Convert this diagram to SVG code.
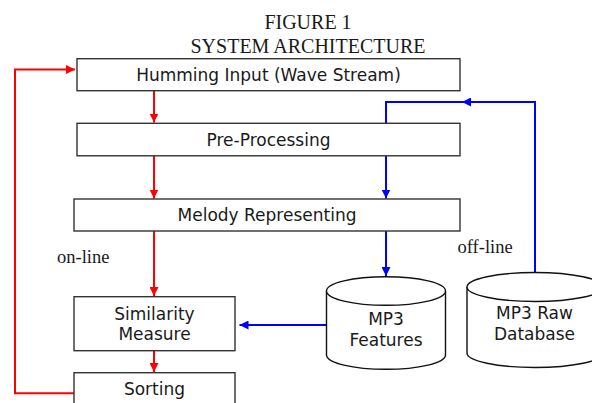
<svg xmlns="http://www.w3.org/2000/svg" width="592" height="403" viewBox="0 0 592 403">
<style>
.box{fill:#fff;stroke:#333;stroke-width:1.4}
.cyl{fill:#fff;stroke:#111;stroke-width:1.4}
.t{font-family:"DejaVu Sans",Verdana,sans-serif;font-size:17px;fill:#1a1a1a;text-anchor:middle}
.s{font-family:"Liberation Serif","Times New Roman",serif;fill:#1a1a1a}
.red{fill:none;stroke:#ff0000;stroke-width:2}
.blue{fill:none;stroke:#0000ff;stroke-width:2}
</style>
<defs>
<marker id="ar" markerUnits="userSpaceOnUse" markerWidth="10" markerHeight="9" refX="9" refY="4.5" orient="auto"><path d="M0,0 L9,4.5 L0,9 z" fill="#ff0000"/></marker>
<marker id="ab" markerUnits="userSpaceOnUse" markerWidth="10" markerHeight="9" refX="9" refY="4.5" orient="auto"><path d="M0,0 L9,4.5 L0,9 z" fill="#0000ff"/></marker>
</defs>
<rect width="592" height="403" fill="#fff"/>
<g id="title">
<text class="s" x="308" y="29" font-size="20" text-anchor="middle">FIGURE 1</text>
<text class="s" x="308" y="53" font-size="20" text-anchor="middle">SYSTEM ARCHITECTURE</text>
</g>
<g id="connectors">
<path class="red" d="M154,91 V122.5" marker-end="url(#ar)"/>
<path class="red" d="M154,156 V198.5" marker-end="url(#ar)"/>
<path class="red" d="M154,231 V296" marker-end="url(#ar)"/>
<path class="red" d="M154,351 V372" marker-end="url(#ar)"/>
<path class="red" d="M74,393.3 H15 V69.5 H75" marker-end="url(#ar)"/>
<path class="blue" d="M535,272.5 V102 H462" marker-end="url(#ab)"/>
<path class="blue" d="M462,102 H386 V123"/>
<path class="blue" d="M386,156 V198.5" marker-end="url(#ab)"/>
<path class="blue" d="M386,231 V276" marker-end="url(#ab)"/>
<path class="blue" d="M326,325 H239.5" marker-end="url(#ab)"/>
<text class="s" x="57" y="263" font-size="18.5">on-line</text>
<text class="s" x="457.5" y="252.5" font-size="18.5">off-line</text>
</g>
<g id="humming">
<rect class="box" x="77" y="58.7" width="383" height="32"/>
<text class="t" x="268.5" y="81">Humming Input (Wave Stream)</text>
</g>
<g id="preprocessing">
<rect class="box" x="77" y="123.3" width="383" height="32.5"/>
<text class="t" x="268.5" y="146">Pre-Processing</text>
</g>
<g id="melody">
<rect class="box" x="74" y="199" width="386" height="32"/>
<text class="t" x="267" y="221">Melody Representing</text>
</g>
<g id="similarity">
<rect class="box" x="74" y="296.7" width="161" height="54"/>
<text class="t" x="154.5" y="319.5">Similarity</text>
<text class="t" x="154.5" y="340">Measure</text>
</g>
<g id="sorting">
<rect class="box" x="74" y="372.7" width="161" height="40"/>
<text class="t" x="154.5" y="395">Sorting</text>
</g>
<g id="mp3features">
<path class="cyl" d="M326.5,291 V355 A59.5,14.3 0 0 0 445.5,355 V291"/>
<ellipse class="cyl" cx="386" cy="291" rx="59.5" ry="14.3"/>
<text class="t" x="386" y="325">MP3</text>
<text class="t" x="386" y="346">Features</text>
</g>
<g id="mp3raw">
<path class="cyl" d="M467,287 V353 A68,14.5 0 0 0 603,353 V287"/>
<ellipse class="cyl" cx="535" cy="287" rx="68" ry="14.5"/>
<text class="t" x="534.5" y="319">MP3 Raw</text>
<text class="t" x="534.5" y="339.5">Database</text>
</g>
</svg>
